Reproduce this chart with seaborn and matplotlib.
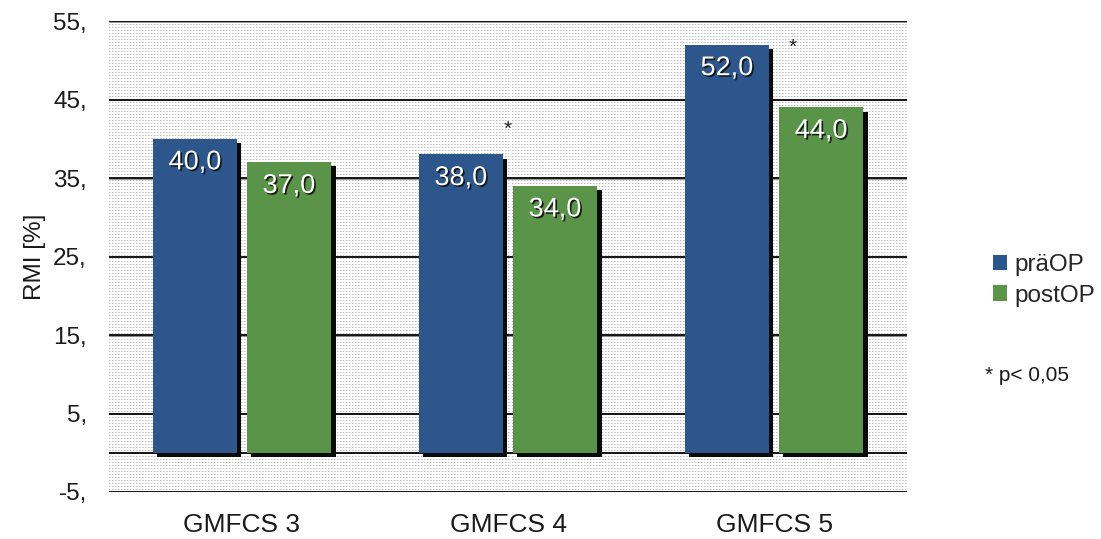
import numpy as np
import pandas as pd
import matplotlib
matplotlib.use("Agg")
import matplotlib.pyplot as plt
import matplotlib.patheffects as pe
from matplotlib.patches import Patch
import seaborn as sns

# --- data -------------------------------------------------------------
categories = ["GMFCS 3", "GMFCS 4", "GMFCS 5"]
series_names = ["präOP", "postOP"]
pre_op = [40.0, 38.0, 52.0]
post_op = [37.0, 34.0, 44.0]
y_ticks = [-5, 5, 15, 25, 35, 45, 55]
y_tick_labels = ["-5,", "5,", "15,", "25,", "35,", "45,", "55,"]
significant = ["GMFCS 4", "GMFCS 5"]
note_text = "* p< 0,05"
y_label = "RMI [%]"

colors = {"präOP": "#2c568c", "postOP": "#5a9448"}

df = pd.DataFrame({
    "Gruppe": categories * 2,
    "Zeitpunkt": [series_names[0]] * 3 + [series_names[1]] * 3,
    "RMI": pre_op + post_op,
})

sns.set_theme(style="white")
plt.rcParams["font.family"] = ["Liberation Sans", "DejaVu Sans"]

fig = plt.figure(figsize=(11.01, 5.39), dpi=100)
ax = fig.add_axes([0.099, 0.0872, 0.7248, 0.8738])

# dotted pattern fill of the plot area
h, w = 471, 798
pat = np.ones((h, w, 3))
yy, xx = np.mgrid[0:h, 0:w]
pat[(xx % 3 == 0) & (yy % 3 == 0)] = 0.76
pat[(xx % 3 == 1) & (yy % 3 == 0)] = 0.88
ax.imshow(pat, extent=(0, 1, 0, 1), transform=ax.transAxes, aspect="auto",
          interpolation="nearest", zorder=0)

sns.barplot(data=df, x="Gruppe", y="RMI", hue="Zeitpunkt", palette=colors,
            saturation=1, width=0.708, gap=0.1, ax=ax, legend=False, zorder=3,
            edgecolor="none", linewidth=0)

shadow = [pe.SimplePatchShadow(offset=(3, -3), shadow_rgbFace="#0a0a0a", alpha=1.0),
          pe.Normal()]
for bar in ax.patches:
    bar.set_path_effects(shadow)

# horizontal grid lines
for t in y_ticks + [0]:
    ax.axhline(t, color="#151515", lw=1.4, zorder=2,
               path_effects=[pe.SimpleLineShadow(offset=(0.4, -0.4), shadow_color="#555", alpha=0.6),
                             pe.Normal()])

ax.set_ylim(-5, 55)
ax.set_xlim(-0.5, 2.5)
ax.set_yticks(y_ticks)
ax.set_yticklabels(y_tick_labels)
ax.tick_params(axis="y", length=0, pad=16, labelsize=17.5, labelcolor="#1a1a1a")
ax.tick_params(axis="x", length=0, pad=15, labelsize=19, labelcolor="#1a1a1a")
ax.set_xlabel("")
ax.set_ylabel(y_label, fontsize=17.5, color="#1a1a1a", labelpad=5)
for s in ax.spines.values():
    s.set_visible(False)

# value labels inside the bars
txt_fx = [pe.SimplePatchShadow(offset=(1.2, -1.2), shadow_rgbFace="#111", alpha=0.9), pe.Normal()]
for bar in ax.patches:
    v = bar.get_height()
    ax.annotate(f"{v:.1f}".replace(".", ","),
                xy=(bar.get_x() + bar.get_width() / 2, v),
                xytext=(0, -17), textcoords="offset points",
                ha="center", va="center", fontsize=19.5, color="white",
                zorder=5, path_effects=txt_fx)

# significance markers
star_pos = {"GMFCS 4": (0.0, 3.2), "GMFCS 5": (0.07, -0.4)}
for cat in significant:
    i = categories.index(cat)
    top = max(pre_op[i], post_op[i])
    dx, dy = star_pos[cat]
    ax.text(i + dx, top + dy, "*", ha="center", va="center",
            fontsize=15, color="#222", zorder=5)

handles = [Patch(facecolor=colors[n], edgecolor="none") for n in series_names]
fig.legend(handles, series_names, loc="center left", bbox_to_anchor=(0.893, 0.48),
           frameon=False, fontsize=17.5, handlelength=0.6, handleheight=0.6,
           handletextpad=0.3, labelspacing=0.35, borderaxespad=0)
fig.text(0.895, 0.303, note_text, fontsize=15, color="#1a1a1a", va="center", ha="left")

fig.savefig("out.png", dpi=100)
